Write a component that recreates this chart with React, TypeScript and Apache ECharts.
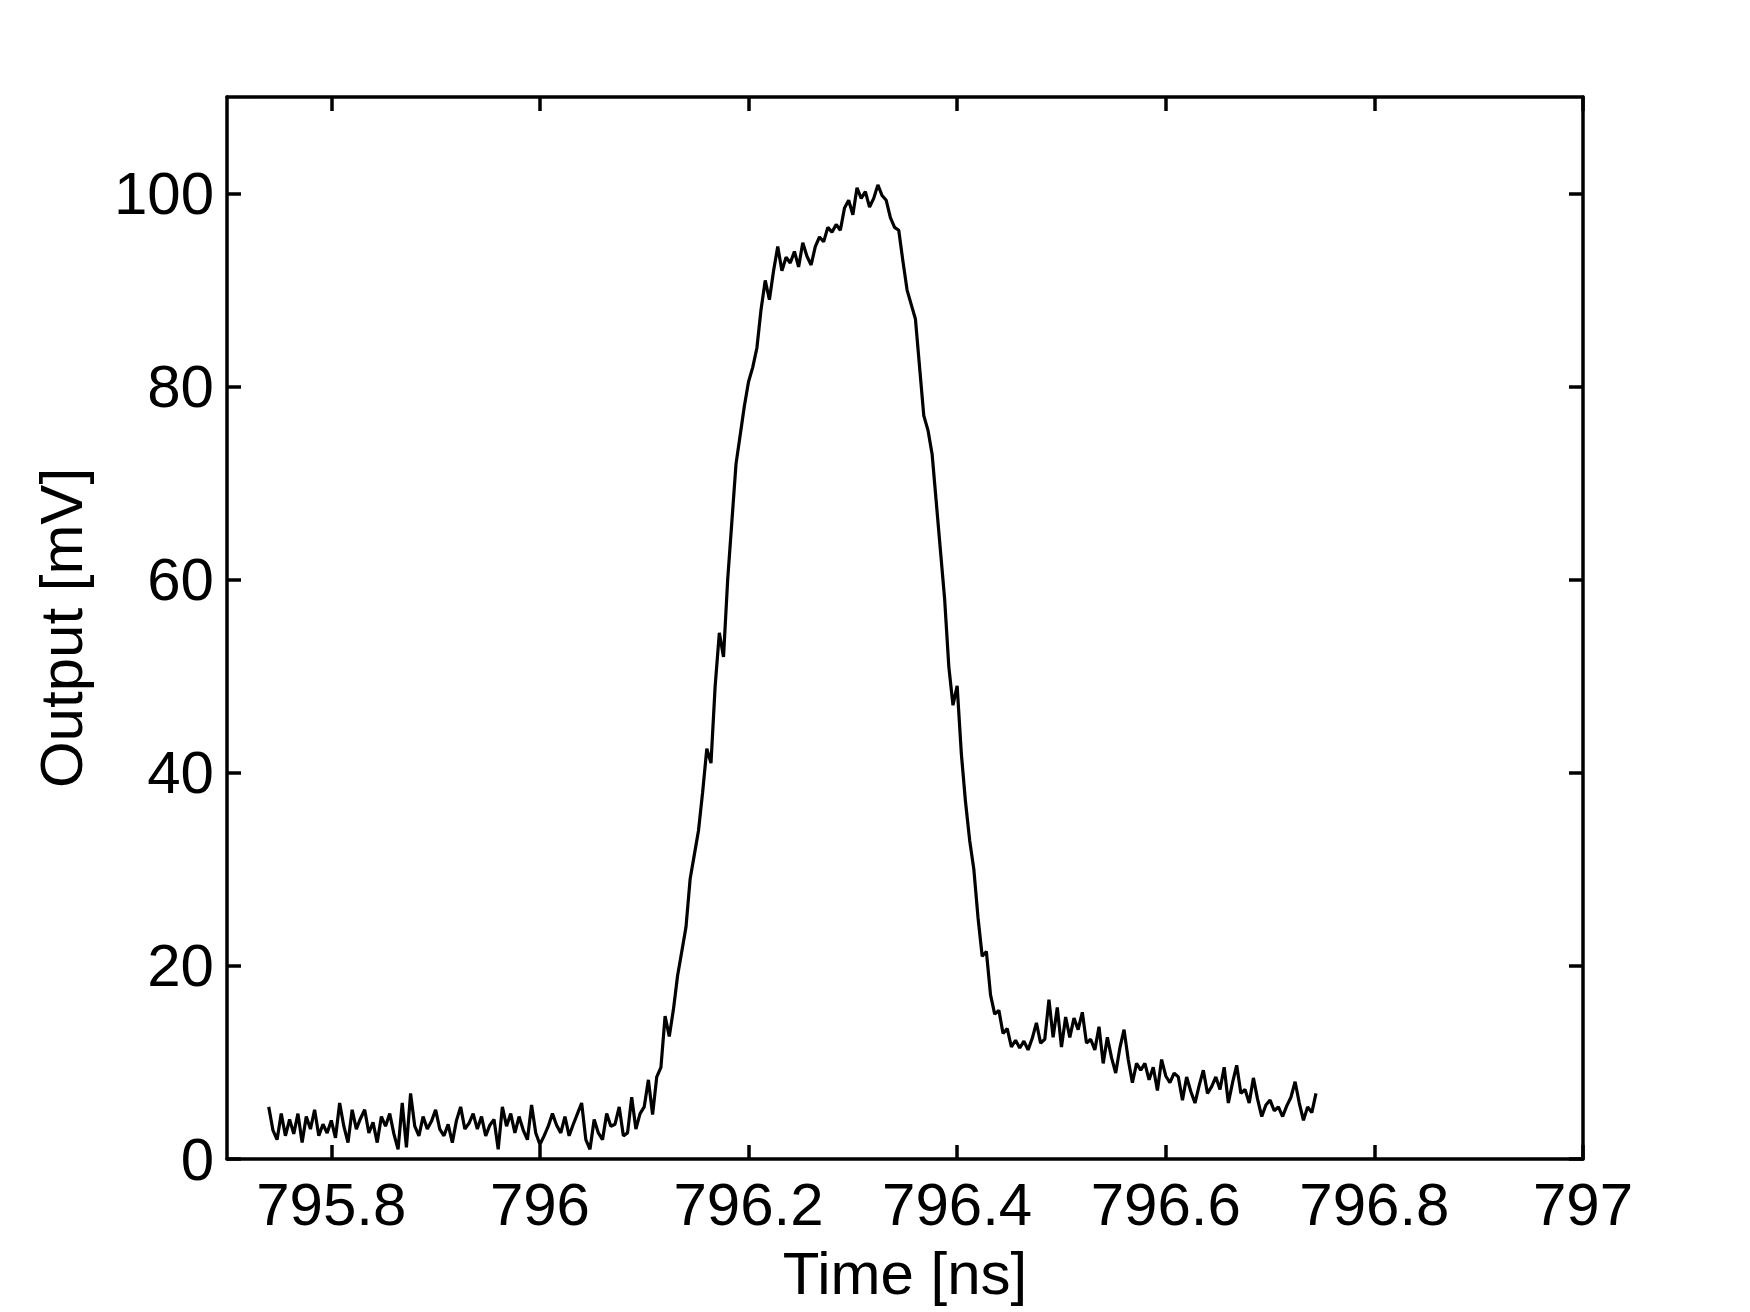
import React, { useEffect, useRef } from "react";
import * as echarts from "echarts";

// Sampling grid of the oscilloscope trace
const T0_NS = 795.74;
const DT_NS = 0.004;

// Output [mV], in time order
const BASELINE_MV = [
  5.4, 3.0, 2.0, 4.7, 2.4, 4.1, 2.6, 4.7, 1.7, 4.4,
  3.1, 5.1, 2.4, 3.6, 2.7, 4.0, 2.2, 5.8, 3.4, 1.7,
  5.1, 3.1, 4.2, 5.1, 2.7, 3.8, 1.7, 4.4, 3.4, 4.7,
  2.6, 1.0, 5.8, 1.2, 6.8, 3.4, 2.4, 4.4, 3.1, 3.9,
  5.1, 3.1, 2.4, 3.6, 1.7, 4.0, 5.4, 3.1, 3.7, 4.7,
  3.1, 4.4, 2.4, 3.5, 4.1, 1.0, 5.4, 3.4, 4.7, 2.7,
  4.4, 3.0, 2.0, 5.6, 2.7, 1.5, 2.4, 3.4, 4.7, 3.5,
  2.7, 4.4, 2.4, 3.6, 4.7, 5.8, 2.0, 1.0, 4.1, 2.7,
  2.0, 4.7, 3.4, 3.6, 5.4, 2.4, 2.7, 6.4, 3.1, 4.7,
  5.4, 8.2, 4.6, 8.5,
];
const RISE_MV = [
  9.5, 14.8, 12.7, 15.5, 19, 21.5, 24, 29, 31.5, 34,
  38, 42.5, 41, 49, 54.5, 52, 60, 66, 72, 75,
  78, 80.5, 82, 84, 88, 91, 89, 92,
];
const PEAK_MV = [
  94.5, 92, 93.4, 92.8, 94, 92.4, 94.9, 93.5, 92.6, 94.5,
  95.5, 95, 96.5, 96, 96.8, 96.2, 98.5, 99.3, 97.8, 100.6,
  99.5, 100.2, 98.6, 99.5, 100.9, 99.8, 99.3, 97.5, 96.5, 96.2,
];
const FALL_MV = [
  93, 90, 88.5, 87, 82, 77, 75.5, 73, 68, 63,
  58, 51, 47, 49, 42, 37, 33, 30, 25,
];
const TAIL_MV = [
  21, 21.5, 17, 15, 15.4, 13, 13.5, 11.6, 12.3, 11.5,
  12.2, 11.3, 12.5, 14.1, 12.0, 12.4, 16.5, 12.6, 15.7, 11.6,
  14.7, 12.6, 14.6, 13.4, 15.2, 12.0, 12.4, 11.3, 13.7, 9.9,
  12.6, 10.5, 8.9, 11.5, 13.4, 10.3, 7.9, 9.9, 9.2, 9.9,
  8.2, 9.5, 7.1, 10.3, 8.6, 7.9, 8.9, 8.5, 6.1, 8.5,
  7.0, 5.8, 7.6, 9.2, 6.8, 7.5, 8.5, 7.2, 9.5, 5.8,
  7.9, 9.7, 6.8, 7.2, 5.8, 8.4, 6.2, 4.4, 5.6, 6.1,
  5.0, 5.4, 4.4, 5.5, 6.4, 8.0, 5.8, 4.0, 5.4, 4.8,
  6.8,
];

const X_TICKS = [795.8, 796, 796.2, 796.4, 796.6, 796.8, 797];
const Y_TICKS = [0, 20, 40, 60, 80, 100];
const X_MIN = 795.7;
const X_MAX = 797;
const Y_MIN = 0;
const Y_MAX = 110;

const FONT = '"Liberation Sans", Arial, Helvetica, sans-serif';

export default function App() {
  const ref = useRef<HTMLDivElement>(null);

  useEffect(() => {
    if (!ref.current) return;
    const chart = echarts.init(ref.current, undefined, { renderer: "svg" });

    const values = [...BASELINE_MV, ...RISE_MV, ...PEAK_MV, ...FALL_MV, ...TAIL_MV];
    const data = values.map((v, i) => [+(T0_NS + i * DT_NS).toFixed(4), v]);

    const lineStyle = { color: "#000", width: 3.5 };
    const fmt = (v: number) => String(+(+v).toFixed(1));

    const xBase = {
      type: "value",
      min: X_MIN,
      max: X_MAX,
      splitLine: { show: false },
      axisLine: { show: true, onZero: false, lineStyle },
      axisTick: { show: true, inside: true, length: 14, lineStyle, customValues: X_TICKS },
    };
    const yBase = {
      type: "value",
      min: Y_MIN,
      max: Y_MAX,
      splitLine: { show: false },
      axisLine: { show: true, onZero: false, lineStyle },
      axisTick: { show: true, inside: true, length: 14, lineStyle, customValues: Y_TICKS },
    };

    chart.setOption({
      animation: false,
      backgroundColor: "#ffffff",
      grid: { left: 227, top: 97, right: 167, bottom: 153, containLabel: false },
      xAxis: [
        {
          ...xBase,
          position: "bottom",
          axisLabel: {
            customValues: X_TICKS,
            formatter: fmt,
            fontSize: 60,
            color: "#000",
            fontFamily: FONT,
            margin: 15,
          },
          name: "Time [ns]",
          nameLocation: "middle",
          nameGap: 84,
          nameTextStyle: { fontSize: 60, color: "#000", fontFamily: FONT },
        },
        { ...xBase, position: "top", axisLabel: { show: false } },
      ],
      yAxis: [
        {
          ...yBase,
          position: "left",
          axisLabel: {
            customValues: Y_TICKS,
            formatter: fmt,
            fontSize: 60,
            color: "#000",
            fontFamily: FONT,
            margin: 13,
          },
          name: "Output [mV]",
          nameLocation: "middle",
          nameGap: 136,
          nameTextStyle: { fontSize: 60, color: "#000", fontFamily: FONT },
        },
        { ...yBase, position: "right", axisLabel: { show: false } },
      ],
      series: [
        {
          type: "line",
          xAxisIndex: 0,
          yAxisIndex: 0,
          data,
          showSymbol: false,
          symbol: "none",
          silent: true,
          lineStyle: { color: "#000", width: 3.2 },
        },
      ],
    });

    return () => chart.dispose();
  }, []);

  return (
    <div
      ref={ref}
      style={{ position: "absolute", left: 0, top: 0, width: 1750, height: 1312, background: "#fff" }}
    />
  );
}
